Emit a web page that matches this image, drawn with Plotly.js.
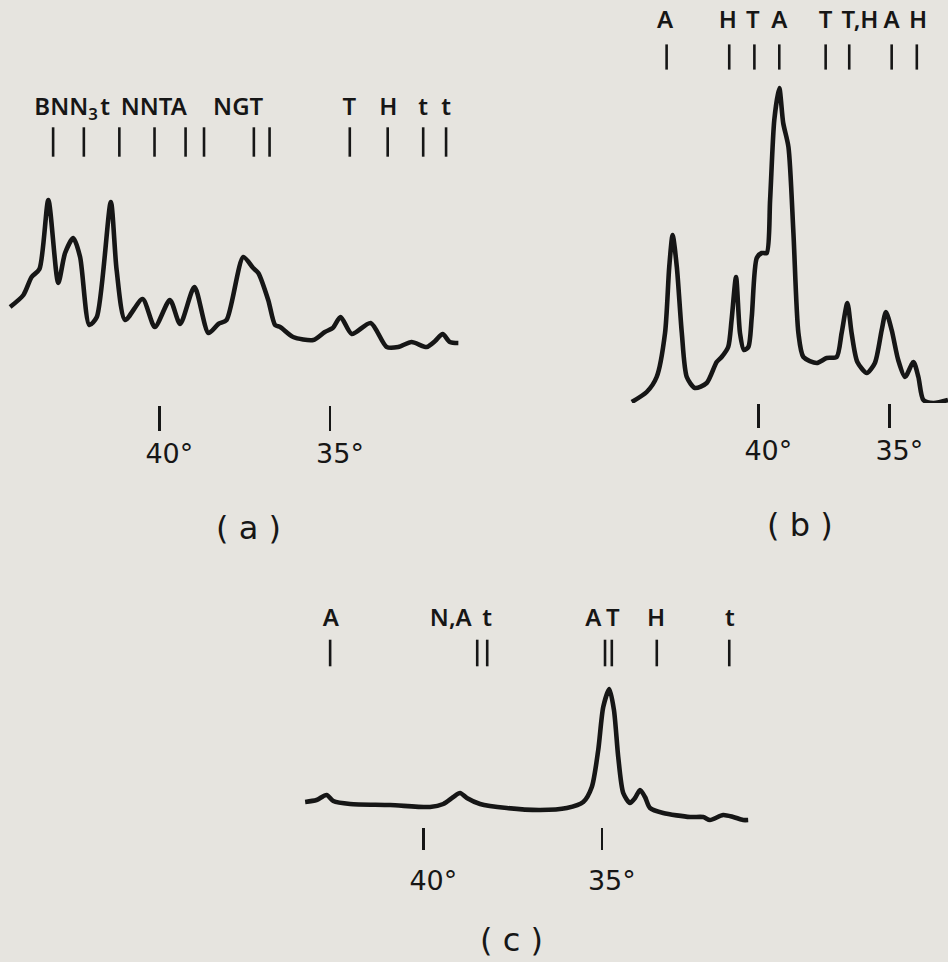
<!DOCTYPE html>
<html>
<head>
<meta charset="utf-8">
<script src="https://cdn.plot.ly/plotly-3.0.1.min.js"></script>
<style>
  html, body { margin: 0; padding: 0; background: #e6e4df; }
  #chart { width: 948px; height: 962px; }
</style>
</head>
<body>
<div id="chart"></div>
<script>
// Diffractometer traces, intensity (arbitrary units) against 2θ (degrees, decreasing to the right)

// (a)
const thetaA = [44.37, 43.98, 43.74, 43.51, 43.25, 42.96, 42.76, 42.52, 42.32, 42.05, 41.83, 41.42, 41.25, 41.00,
  40.49, 40.13, 39.69, 39.39, 38.97, 38.56, 38.27, 38.03, 37.54, 37.25, 37.10, 36.81, 36.61, 36.46, 36.08, 35.49,
  35.15, 34.92, 34.69, 34.36, 33.81, 33.34, 33.00, 32.61, 32.17, 31.92, 31.70, 31.49, 31.24];
const intensityA = [98, 110, 128, 136, 205, 122, 152, 167, 148, 80, 88, 203, 135, 85,
  106, 78, 105, 81, 118, 72, 81, 85, 148, 137, 132, 105, 80, 78, 68, 65,
  73, 77, 88, 71, 82, 58, 58, 63, 58, 64, 71, 63, 62];
const linesA = [43.11, 42.21, 41.17, 40.14, 39.23, 38.69, 37.23, 36.77, 34.42, 33.31, 32.27, 31.60];
const labelTextA = ['BNN<sub>3</sub>', 't', 'NNTA', 'NGT', 'T', 'H', 't', 't'];
const labelPosA = [42.73, 41.59, 40.16, 37.69, 34.43, 33.29, 32.27, 31.60];

// (b)
const thetaB = [44.83, 44.26, 43.88, 43.56, 43.40, 43.27, 43.11, 42.92, 42.73, 42.42, 41.97, 41.59, 41.40, 41.15,
  41.02, 40.85, 40.70, 40.55, 40.38, 40.25, 40.06, 39.87, 39.68, 39.55, 39.39, 39.20, 39.05, 38.85, 38.66, 38.47,
  38.28, 37.77, 37.39, 37.01, 36.82, 36.60, 36.44, 36.22, 35.86, 35.55, 35.29, 35.13, 34.91, 34.66, 34.40, 34.08,
  33.89, 33.70, 33.32, 32.76];
const intensityB = [1, 11, 26, 70, 136, 168, 136, 70, 26, 15, 20, 41, 46, 56,
  83, 126, 70, 53, 56, 86, 145, 150, 150, 203, 283, 315, 280, 256, 170, 70,
  46, 40, 45, 46, 70, 100, 70, 41, 30, 40, 73, 91, 73, 43, 26, 41,
  26, 3, 0, 3];
const linesB = [43.50, 41.11, 40.15, 39.20, 37.43, 36.53, 34.91, 33.95];
const labelTextB = ['A', 'H', 'T', 'A', 'T', 'T,H', 'A', 'H'];
const labelPosB = [43.56, 41.16, 40.21, 39.20, 37.43, 36.12, 34.91, 33.90];

// (c)
const thetaC = [43.31, 42.99, 42.71, 42.52, 42.05, 40.93, 39.81, 39.44, 39.16, 38.97, 38.78, 38.41, 37.66, 36.73,
  35.98, 35.52, 35.28, 35.10, 34.96, 34.79, 34.66, 34.54, 34.40, 34.21, 34.07, 33.93, 33.79, 33.65, 33.28, 32.53,
  32.16, 31.97, 31.60, 31.32, 31.04, 30.90];
const intensityC = [25, 27, 32, 26, 23, 22, 20, 23, 30, 34, 29, 23, 19, 17,
  19, 25, 40, 77, 120, 138, 117, 70, 34, 24, 29, 37, 30, 19, 14, 10,
  10, 7, 12, 10, 7, 7];
const linesC = [42.61, 38.49, 38.21, 34.91, 34.72, 33.46, 31.43];
const labelTextC = ['A', 'N,A', 't', 'A', 'T', 'H', 't'];
const labelPosC = [42.59, 39.23, 38.21, 35.24, 34.69, 33.48, 31.41];

const tickVals = [40, 35];
const tickText = ['40°', '35°'];
const panelNames = ['( a )', '( b )', '( c )'];

const ink = '#161616';
const bg = '#e6e4df';
const W = 948, H = 962;
const labelFont = { family: 'Noto Sans, sans-serif', size: 24, color: ink, weight: 600 };

function panel(theta, inten, lines, lineY, lineLen, labText, labPos, labY, xa, ya) {
  return [
    { x: theta, y: inten, xaxis: xa, yaxis: ya, type: 'scatter', mode: 'lines',
      line: { color: ink, width: 4.6, shape: 'spline', smoothing: 0.7 },
      cliponaxis: false, hoverinfo: 'skip' },
    { x: lines, y: lines.map(() => lineY), xaxis: xa, yaxis: ya, type: 'scatter', mode: 'markers',
      marker: { symbol: 'line-ns', size: lineLen, color: ink, line: { color: ink, width: 2.6 } },
      cliponaxis: false, hoverinfo: 'skip' },
    { x: labPos, y: labPos.map(() => labY), text: labText, xaxis: xa, yaxis: ya, type: 'scatter', mode: 'text',
      textposition: 'middle center', textfont: labelFont, cliponaxis: false, hoverinfo: 'skip' }
  ];
}

const data = [
  ...panel(thetaA, intensityA, linesA, 263, 21, labelTextA, labelPosA, 296, 'x', 'y'),
  ...panel(thetaB, intensityB, linesB, 346, 18, labelTextB, labelPosB, 381, 'x2', 'y2'),
  ...panel(thetaC, intensityC, linesC, 174, 19, labelTextC, labelPosC, 207, 'x3', 'y3')
];

function xAxis(domain, range, anchor, ticklen, standoff) {
  return {
    domain: domain, range: range, anchor: anchor,
    showgrid: false, zeroline: false, showline: false,
    tickmode: 'array', tickvals: tickVals, ticktext: tickText,
    ticks: 'outside', ticklen: ticklen, tickwidth: 2.4, tickcolor: ink,
    ticklabelshift: -10, ticklabelstandoff: standoff,
    tickfont: { family: 'DejaVu Sans, sans-serif', size: 27, color: ink }
  };
}
function yAxis(domain, range, anchor) {
  return { domain: domain, range: range, anchor: anchor, visible: false, fixedrange: true };
}

const layout = {
  width: W, height: H,
  margin: { l: 0, r: 0, t: 0, b: 0 },
  paper_bgcolor: bg, plot_bgcolor: 'rgba(0,0,0,0)',
  showlegend: false,
  xaxis: xAxis([0, 470 / W], [44.666, 30.899], 'y', 25, 0),
  yaxis: yAxis([1 - 405 / H, 1], [0, 405], 'x'),
  xaxis2: xAxis([620 / W, 1], [45.279, 32.760], 'y2', 24, 0),
  yaxis2: yAxis([1 - 403 / H, 1], [0, 403], 'x2'),
  xaxis3: xAxis([295 / W, 760 / W], [43.594, 30.569], 'y3', 22, 8),
  yaxis3: yAxis([1 - 827 / H, 1 - 580 / H], [0, 247], 'x3'),
  annotations: [
    { text: panelNames[0], x: 248 / W, y: 1 - 528 / H },
    { text: panelNames[1], x: 800 / W, y: 1 - 525 / H },
    { text: panelNames[2], x: 512 / W, y: 1 - 940 / H }
  ].map(a => Object.assign(a, {
    xref: 'paper', yref: 'paper', xanchor: 'center', yanchor: 'middle', showarrow: false,
    font: { family: 'DejaVu Sans, sans-serif', size: 32, color: ink }
  }))
};

Plotly.newPlot('chart', data, layout, { staticPlot: true, displayModeBar: false });
</script>
</body>
</html>
